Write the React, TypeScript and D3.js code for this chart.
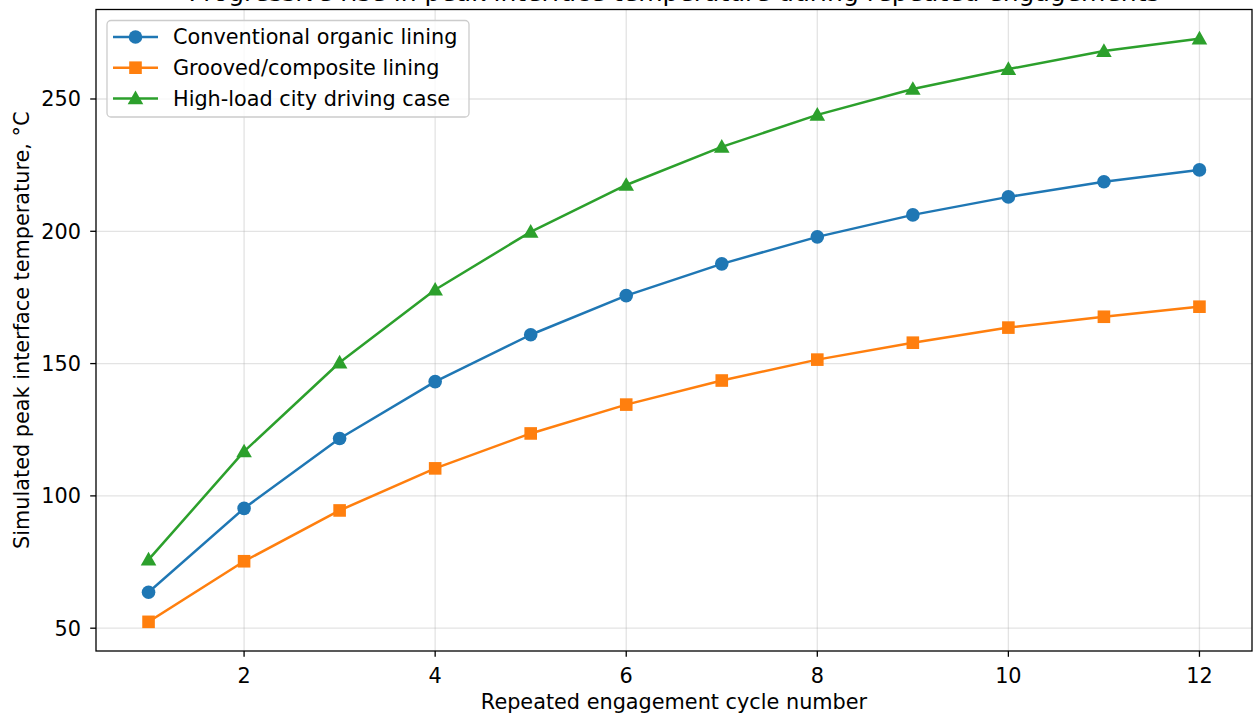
import React from "react";
import * as d3 from "d3";

const cycles = [1, 2, 3, 4, 5, 6, 7, 8, 9, 10, 11, 12];
const conventional = [63.6, 95.3, 121.7, 143.2, 160.9, 175.7, 187.7, 197.9, 206.2, 213.0, 218.7, 223.2];
const grooved = [52.4, 75.3, 94.5, 110.4, 123.6, 134.5, 143.6, 151.5, 157.9, 163.6, 167.7, 171.5];
const highLoad = [75.9, 116.8, 150.4, 177.9, 199.8, 217.5, 231.9, 244.0, 253.8, 261.3, 268.1, 272.8];
const xTicks = [2, 4, 6, 8, 10, 12];
const yTicks = [50, 100, 150, 200, 250];
const seriesNames = ["Conventional organic lining", "Grooved/composite lining", "High-load city driving case"];
const title = "Progressive rise in peak interface temperature during repeated engagements";
const xLabel = "Repeated engagement cycle number";
const yLabel = "Simulated peak interface temperature, °C";

const W = 1254;
const H = 716;
const L = 96, R = 1252, T = 9.5, B = 651;
const FONT = "DejaVu Sans, sans-serif";
const FS = 20.8;

function Marker({ kind, x, y, color }: { kind: string; x: number; y: number; color: string }) {
  if (kind === "circle") return <circle cx={x} cy={y} r={6.8} fill={color} />;
  if (kind === "square") return <rect x={x - 6.3} y={y - 6.3} width={12.6} height={12.6} fill={color} />;
  const s = 7.8;
  return <path d={`M${x},${y - s} L${x + s},${y + s * 0.75} L${x - s},${y + s * 0.75} Z`} fill={color} />;
}

export default function App() {
  const allVals = [...conventional, ...grooved, ...highLoad];
  const minV = d3.min(allVals)!;
  const maxV = d3.max(allVals)!;
  const yPad = (maxV - minV) * 0.05;
  const xPad = (12 - 1) * 0.05;
  const x = d3.scaleLinear().domain([1 - xPad, 12 + xPad]).range([L, R]);
  const y = d3.scaleLinear().domain([minV - yPad, maxV + yPad]).range([B, T]);

  const series = [
    { name: seriesNames[0], values: conventional, color: "#1f77b4", marker: "circle" },
    { name: seriesNames[1], values: grooved, color: "#ff7f0e", marker: "square" },
    { name: seriesNames[2], values: highLoad, color: "#2ca02c", marker: "triangle" },
  ];

  const line = d3
    .line<number>()
    .x((_, i) => x(cycles[i]))
    .y((d) => y(d));

  return (
    <svg width={W} height={H} style={{ position: "absolute", left: 0, top: 0, background: "#fff" }} fontFamily={FONT}>
      <rect x={0} y={0} width={W} height={H} fill="#fff" />
      <text x={(L + R) / 2} y={0.5} textAnchor="middle" fontSize={25} fill="#000">
        {title}
      </text>
      {/* grid */}
      {xTicks.map((t) => (
        <line key={"gx" + t} x1={x(t)} x2={x(t)} y1={T} y2={B} stroke="#b0b0b0" strokeOpacity={0.35} strokeWidth={1.3} />
      ))}
      {yTicks.map((t) => (
        <line key={"gy" + t} x1={L} x2={R} y1={y(t)} y2={y(t)} stroke="#b0b0b0" strokeOpacity={0.35} strokeWidth={1.3} />
      ))}
      {/* series */}
      {series.map((s) => (
        <g key={s.name}>
          <path d={line(s.values)!} fill="none" stroke={s.color} strokeWidth={2.5} strokeLinejoin="round" strokeLinecap="square" />
          {s.values.map((v, i) => (
            <Marker key={i} kind={s.marker} x={x(cycles[i])} y={y(v)} color={s.color} />
          ))}
        </g>
      ))}
      {/* spines */}
      <rect x={L} y={T} width={R - L} height={B - T} fill="none" stroke="#000" strokeWidth={1.3} />
      {/* ticks */}
      {xTicks.map((t) => (
        <g key={"tx" + t}>
          <line x1={x(t)} x2={x(t)} y1={B} y2={B + 5.8} stroke="#000" strokeWidth={1.3} />
          <text x={x(t)} y={B + 32} textAnchor="middle" fontSize={FS} fill="#000">
            {t}
          </text>
        </g>
      ))}
      {yTicks.map((t) => (
        <g key={"ty" + t}>
          <line x1={L} x2={L - 5.8} y1={y(t)} y2={y(t)} stroke="#000" strokeWidth={1.3} />
          <text x={L - 15} y={y(t)} dy="0.36em" textAnchor="end" fontSize={FS} fill="#000">
            {t}
          </text>
        </g>
      ))}
      {/* axis labels */}
      <text x={(L + R) / 2} y={709} textAnchor="middle" fontSize={FS} fill="#000">
        {xLabel}
      </text>
      <text
        transform={`translate(29,${(T + B) / 2}) rotate(-90)`}
        textAnchor="middle"
        fontSize={FS}
        fill="#000"
      >
        {yLabel}
      </text>
      {/* legend */}
      <g>
        <rect x={107} y={20.5} width={362} height={96.5} rx={4} fill="#fff" fillOpacity={0.8} stroke="#cccccc" strokeWidth={1.3} />
        {series.map((s, i) => {
          const ly = 37 + i * 30.7;
          return (
            <g key={"lg" + s.name}>
              <line x1={113} x2={158} y1={ly} y2={ly} stroke={s.color} strokeWidth={2.5} />
              <Marker kind={s.marker} x={135.5} y={ly} color={s.color} />
              <text x={173} y={ly} dy="0.36em" fontSize={FS} fill="#000">
                {s.name}
              </text>
            </g>
          );
        })}
      </g>
    </svg>
  );
}
